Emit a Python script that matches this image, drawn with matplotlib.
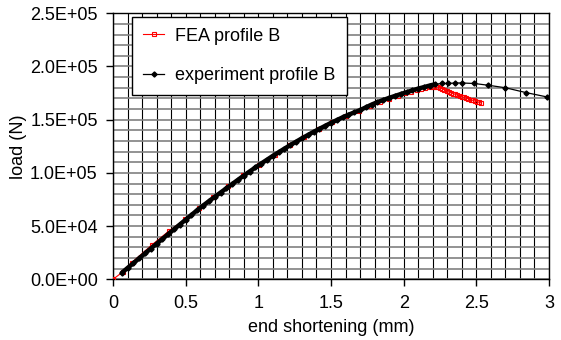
"""
load vs end shortening, FEA against experiment (profile B)
"""

import matplotlib
matplotlib.use("Agg")
import matplotlib.pyplot as plt
from matplotlib.ticker import MultipleLocator, FuncFormatter

plt.rcParams['font.family'] = ['Liberation Sans', 'DejaVu Sans']

# FEA results, profile B
fea_x = [0.0, 0.067, 0.129, 0.27, 0.385, 0.496, 0.594, 0.69, 0.794, 0.897,
         1.007, 1.115, 1.218, 1.317, 1.415, 1.51, 1.60, 1.69, 1.77, 1.84,
         1.90, 1.96, 2.01, 2.05, 2.09, 2.12, 2.15, 2.18, 2.20, 2.22,
         2.235, 2.25, 2.265, 2.28, 2.295, 2.31, 2.325, 2.34, 2.355, 2.37,
         2.385, 2.40, 2.415, 2.43, 2.445, 2.46, 2.475, 2.49, 2.505, 2.52,
         2.535]
fea_load = [0, 6900, 15700, 32600, 45400, 56400, 67400, 77400, 87400, 97800,
            107800, 117200, 126000, 133800, 140800, 147500, 153200, 158500,
            163000, 166800, 169800, 172600, 174800, 176400, 177800, 178800,
            179700, 180500, 180900, 181000,
            180600, 179900, 179000, 178000, 176900, 176100, 175300, 174600,
            173800, 173100, 172400, 171600, 170900, 170200, 169600, 168900,
            168200, 167600, 166900, 166300, 165600]

# measured curve, profile B
exp_x = [0.06, 0.10, 0.14, 0.18, 0.22, 0.26, 0.30, 0.34, 0.38, 0.42,
         0.46, 0.50, 0.54, 0.58, 0.62, 0.66, 0.70, 0.74, 0.78, 0.82,
         0.86, 0.90, 0.94, 0.98, 1.02, 1.06, 1.10, 1.14, 1.18, 1.22,
         1.26, 1.30, 1.34, 1.38, 1.42, 1.46, 1.50, 1.54, 1.58, 1.62,
         1.66, 1.70, 1.74, 1.78, 1.82, 1.86, 1.90, 1.94, 1.98, 2.02,
         2.06, 2.10, 2.14, 2.18,
         2.216, 2.262, 2.306, 2.354, 2.40, 2.485, 2.58, 2.70, 2.84, 2.985]
exp_load = [6000, 10600, 15100, 19700, 24300, 28900, 33400, 37900, 42400,
            47000, 51500, 56000, 60500, 65000, 69300, 73400, 77500, 81500,
            85500, 89500, 93500, 97500, 101300, 105100, 108800, 112400,
            116000, 119400, 122800, 126100, 129300, 132500, 135500, 138500,
            141400, 144200, 147000, 149600, 152200, 154600, 156800, 159000,
            161600, 164200, 166500, 168500, 170500, 172300, 174100, 175800,
            177500, 179200, 180600, 182100,
            183300, 184000, 184000, 184500, 184500, 184000, 182400, 180000,
            175500, 171400]

# loading branch is sampled densely, so it prints as a heavy line
n_dense = 54

fig = plt.figure(figsize=(5.61, 3.40), dpi=100)
ax = fig.add_axes([0.2014, 0.1785, 0.7772, 0.7825])

ax.plot(fea_x, fea_load, color='red', lw=0.8, marker='s', ms=3.5,
        mfc='none', mec='red', mew=0.8, label='FEA profile B', zorder=3)
ax.plot(exp_x[:n_dense + 1], exp_load[:n_dense + 1], color='black', lw=3.2,
        solid_capstyle='round', zorder=4)
ax.plot(exp_x, exp_load, color='black', lw=0.9, marker='D', ms=2.6,
        mfc='black', mec='black', label='experiment profile B', zorder=4)

ax.set_xlim(0, 3)
ax.set_ylim(0, 2.5e5)
ax.xaxis.set_major_locator(MultipleLocator(0.5))
ax.xaxis.set_minor_locator(MultipleLocator(0.1))
ax.yaxis.set_major_locator(MultipleLocator(5e4))
ax.yaxis.set_minor_locator(MultipleLocator(1e4))
ax.xaxis.set_major_formatter(FuncFormatter(lambda v, _: f"{v:g}"))
ax.yaxis.set_major_formatter(FuncFormatter(lambda v, _: f"{v:.1E}"))

# grid: black verticals, grey horizontals
ax.grid(which='both', axis='x', color='black', lw=0.8)
ax.grid(which='both', axis='y', color='#808080', lw=1.2)
ax.set_axisbelow(True)

ax.tick_params(which='major', direction='out', length=5, width=1,
               labelsize=13, pad=6)
ax.tick_params(which='minor', length=0)
for sp in ax.spines.values():
    sp.set_color('black')
    sp.set_linewidth(1)

ax.set_xlabel('end shortening (mm)', fontsize=13, labelpad=5)
ax.set_ylabel('load (N)', fontsize=13, labelpad=2)

leg = ax.legend(loc='upper left', bbox_to_anchor=(0.0436, 0.987),
                borderaxespad=0, fontsize=13, fancybox=False,
                framealpha=1, edgecolor='black', labelspacing=1.25,
                handlelength=1.2, handletextpad=0.6, borderpad=0.6)
leg.get_frame().set_linewidth(1)
leg.set_zorder(5)

fig.savefig('out.png', dpi=100)
